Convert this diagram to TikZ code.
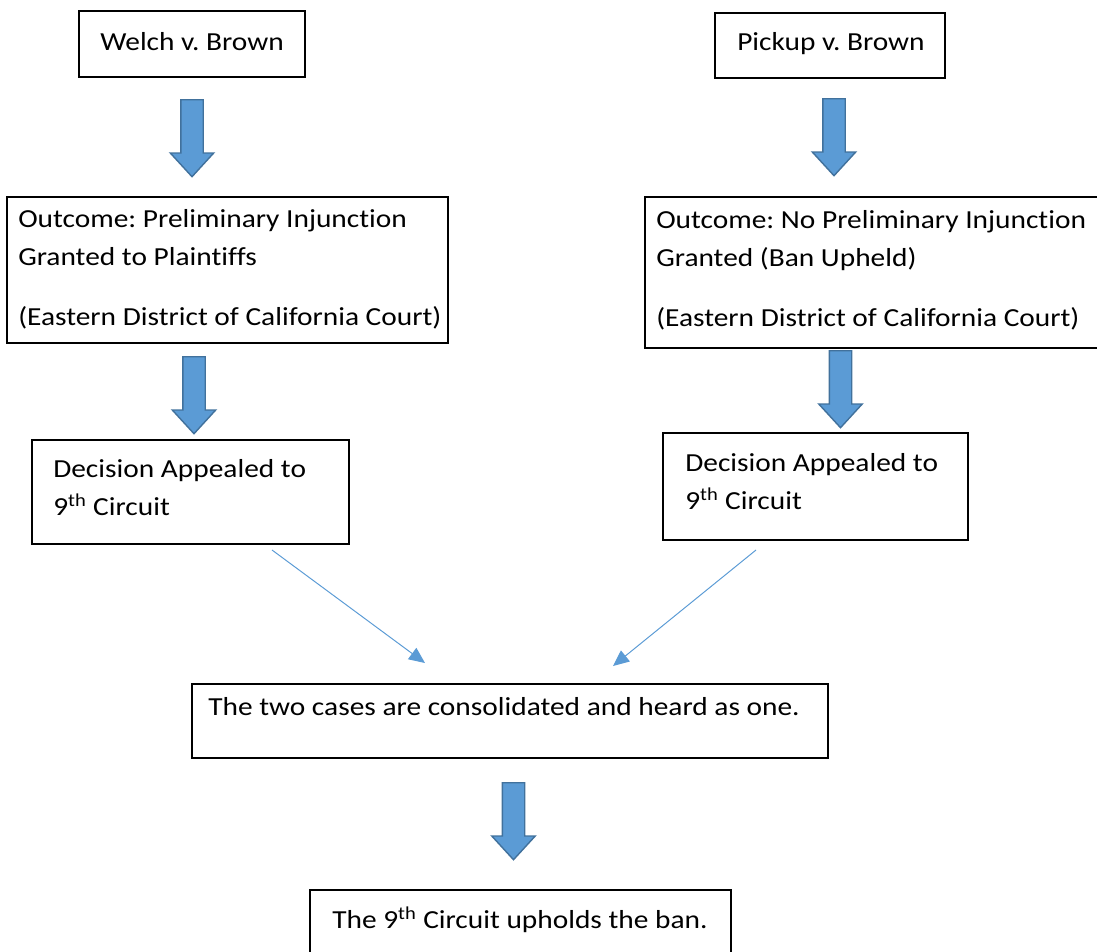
\documentclass[tikz,border=0pt]{standalone}
\usepackage{fontspec}
\setmainfont{Carlito}[FakeStretch=1.13, Ligatures=NoCommon]
\usepackage{tikz}
\usetikzlibrary{shapes.arrows,arrows.meta}
\definecolor{arrowfill}{RGB}{91,155,213}
\definecolor{arrowline}{RGB}{65,113,156}
\frenchspacing
\tikzset{
  font={\fontsize{18.5pt}{27pt}\selectfont}}
\tikzset{
  box/.style={draw=black, line width=1pt, rectangle},
  boxtext/.style={anchor=base west, align=left},
  blockarrow/.style={single arrow, draw=arrowline, fill=arrowfill, line width=1pt,
    rotate=-90, anchor=tail, minimum height=1.925cm,
    text height=0.2625cm, text depth=0.2625cm, text width=0pt,
    single arrow head extend=0.2625cm, single arrow tip angle=85},
  linkarrow/.style={draw=arrowfill, line width=0.7pt,
    -{Triangle[length=0.4cm,width=0.35cm]}}}

\begin{document}
\begin{tikzpicture}[scale=0.25]
\tikzstyle{every node}+=[inner sep=0pt]
\useasboundingbox (0,0) rectangle (109.7,-95.1);
\node [box, minimum width=5.65cm, minimum height=1.65cm] (welch) at (19.2,-4.4) {};
\node [boxtext] (welchtxt) at (10.0,-5.0) {Welch v. Brown};
\node [box, minimum width=5.75cm, minimum height=1.625cm] (pickup) at (83.0,-4.55) {};
\node [boxtext] (pickuptxt) at (73.7,-5.0) {Pickup v. Brown};
\node [blockarrow] (downA) at (19.2,-9.9) {};
\node [blockarrow] (downB) at (83.4,-9.8) {};
\node [box, minimum width=11.025cm, minimum height=3.65cm] (outcomeL) at (22.75,-27.0) {};
\node [boxtext] (outcomeLtxt) at (1.8,-32.5) {Outcome: Preliminary Injunction\\Granted to Plaintiffs\\[15.6pt](Eastern District of California Court)};
\node [box, minimum width=11.625cm, minimum height=3.775cm] (outcomeR) at (87.75,-27.25) {};
\node [boxtext] (outcomeRtxt) at (65.6,-32.6) {Outcome: No Preliminary Injunction\\Granted (Ban Upheld)\\[15.6pt](Eastern District of California Court)};
\node [blockarrow] (downC) at (19.4,-35.6) {};
\node [blockarrow] (downD) at (84.05,-35.0) {};
\node [box, minimum width=7.925cm, minimum height=2.6cm] (decisionL) at (19.05,-49.2) {};
\node [boxtext] (decisionLtxt) at (5.3,-51.5) {Decision Appealed to\\9\textsuperscript{th} Circuit};
\node [box, minimum width=7.625cm, minimum height=2.675cm] (decisionR) at (81.55,-48.65) {};
\node [boxtext] (decisionRtxt) at (68.5,-50.9) {Decision Appealed to\\9\textsuperscript{th} Circuit};
\coordinate (fromL) at (27.2,-55.0);
\coordinate (toL) at (42.5,-66.3);
\coordinate (fromR) at (75.6,-55.0);
\coordinate (toR) at (61.3,-66.6);
\draw [linkarrow] (fromL) -- (toL);
\draw [linkarrow] (fromR) -- (toR);
\node [box, minimum width=15.9cm, minimum height=1.85cm] (merge) at (51.0,-72.1) {};
\node [boxtext] (mergetxt) at (20.8,-71.5) {The two cases are consolidated and heard as one.};
\node [blockarrow] (downE) at (51.35,-78.2) {};
\node [box, minimum width=10.525cm, minimum height=1.75cm] (final) at (52.05,-92.5) {};
\node [boxtext] (finaltxt) at (33.2,-92.8) {The 9\textsuperscript{th} Circuit upholds the ban.};
\end{tikzpicture}
\end{document}
